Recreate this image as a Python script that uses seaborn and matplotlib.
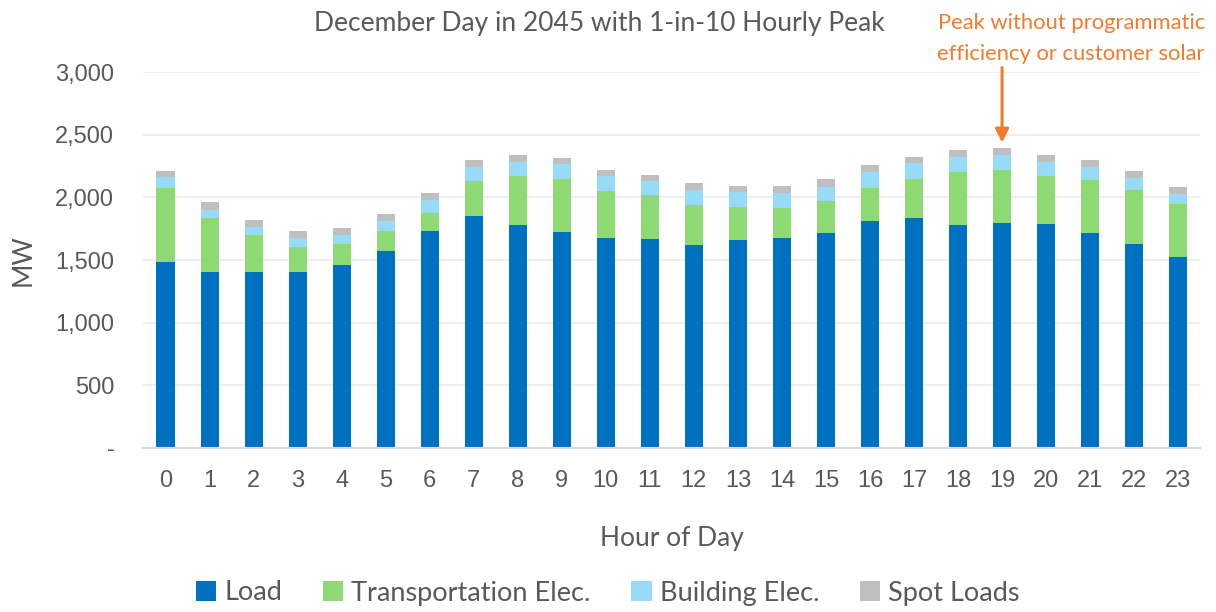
import matplotlib
matplotlib.use("Agg")
import matplotlib.pyplot as plt
import seaborn as sns
import numpy as np
import pandas as pd
from matplotlib.patches import Patch

hours = list(range(24))
load = [1488, 1403, 1403, 1403, 1462, 1570, 1733, 1853, 1783, 1725, 1674, 1666,
        1624, 1658, 1674, 1717, 1810, 1834, 1783, 1799, 1791, 1717, 1632, 1522]
transport = [591, 431, 295, 205, 170, 163, 144, 276, 389, 423, 381, 351,
             319, 269, 245, 253, 269, 314, 424, 424, 381, 420, 431, 424]
building = [82, 69, 67, 66, 66, 77, 101, 112, 109, 117, 117, 112,
            120, 120, 118, 117, 128, 125, 117, 117, 109, 104, 90, 80]
spot = [54, 59, 58, 59, 59, 56, 59, 59, 62, 51, 51, 54,
        50, 48, 58, 61, 50, 51, 58, 58, 62, 59, 62, 61]
series_names = ["Load", "Transportation Elec.", "Building Elec.", "Spot Loads"]
colors = ["#0070C0", "#8FD974", "#97DBF8", "#BFBFBF"]

sns.set_theme(style="white")
plt.rcParams['font.family'] = ['Liberation Sans', 'DejaVu Sans']
text_col = "#595959"
lato = ["Lato", "DejaVu Sans"]

df = pd.DataFrame({"hour": hours, "Load": load, "Transportation Elec.": transport,
                   "Building Elec.": building, "Spot Loads": spot})
cum = df[series_names].cumsum(axis=1)

fig = plt.figure(figsize=(12.16, 6.12), dpi=100)
ax = fig.add_axes([0.118, 0.268, 0.869, 0.614])

# draw cumulative totals, tallest first
for name, col in zip(series_names[::-1], colors[::-1]):
    sns.barplot(x=df["hour"], y=cum[name], color=col, width=0.41, ax=ax,
                saturation=1, linewidth=0)

ax.set_xlim(-0.5, 23.5)
ax.set_ylim(0, 3000)
ax.set_yticks(np.arange(0, 3001, 500))
ax.set_yticklabels(["-"] + [f"{v:,}" for v in range(500, 3001, 500)])
ax.yaxis.grid(True, color="#EDEDED", linewidth=1.3)
ax.set_axisbelow(True)
for s in ["top", "right", "left"]:
    ax.spines[s].set_visible(False)
ax.spines["bottom"].set_color("#D9D9D9")
ax.spines["bottom"].set_linewidth(1.5)
ax.tick_params(axis="both", length=0, labelsize=17, colors=text_col)
ax.tick_params(axis="x", pad=16)
ax.tick_params(axis="y", pad=21)

ax.set_xlabel("Hour of Day", fontsize=19, color=text_col, labelpad=24, family=lato)
ax.set_ylabel("MW", fontsize=19, color=text_col, labelpad=14, family=lato)
fig.text(0.4926, 0.961, "December Day in 2045 with 1-in-10 Hourly Peak", fontsize=19,
         color=text_col, ha="center", va="center", family=lato)

orange = "#ED7D31"
peak_total = cum["Spot Loads"].iloc[19]
ax.text(20.57, 3270, "Peak without programmatic\nefficiency or customer solar",
        ha="center", va="center", fontsize=15.8, color=orange, family=lato,
        linespacing=1.7, clip_on=False)
ax.annotate("", xy=(19, peak_total + 40), xytext=(19, 3037),
            annotation_clip=False,
            arrowprops=dict(arrowstyle="-|>", color=orange, lw=2.2,
                            mutation_scale=20, shrinkA=0, shrinkB=0))

handles = [Patch(facecolor=c, edgecolor="none") for c in colors]
fig.legend(handles, series_names, loc="center", bbox_to_anchor=(0.5, 1 - 593 / 612),
           ncol=4, frameon=False, handlelength=0.75, handleheight=0.75,
           columnspacing=1.5, handletextpad=0.3,
           prop={"family": lato, "size": 19.5}, labelcolor=text_col)

fig.savefig("out.png", dpi=100)
